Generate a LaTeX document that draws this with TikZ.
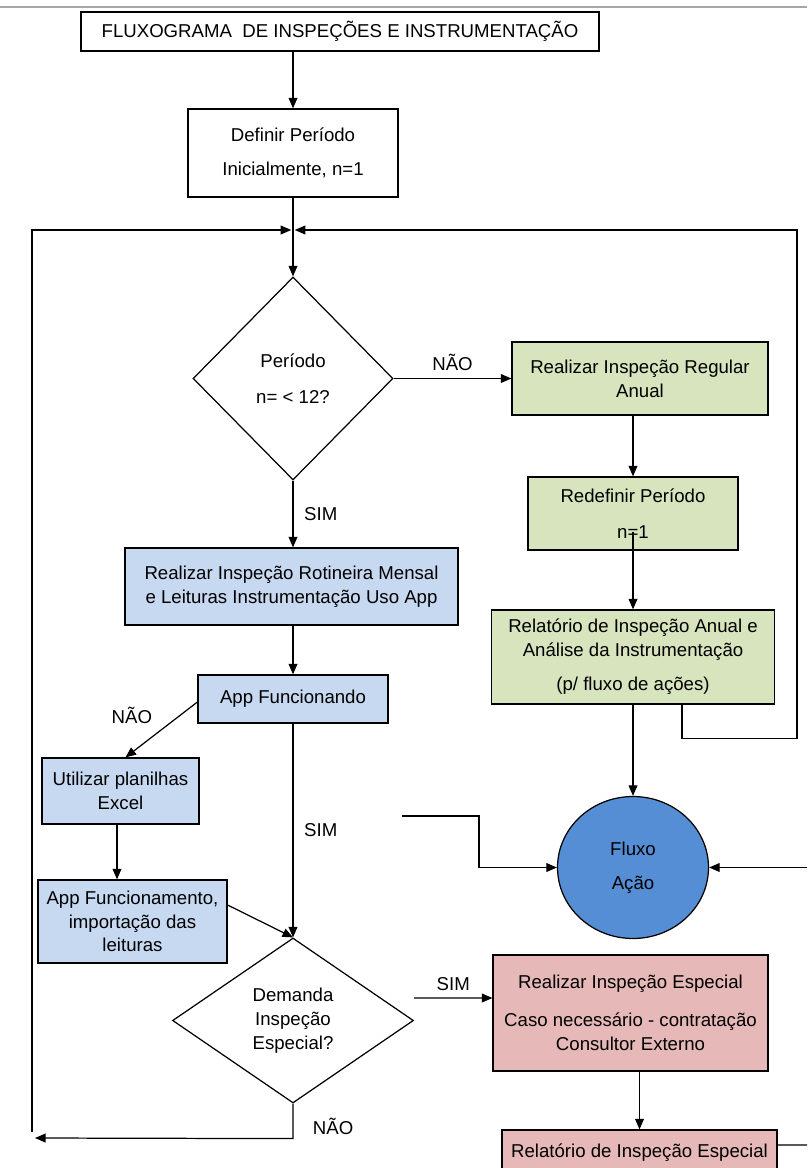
\documentclass[tikz,border=0pt]{standalone}
\usepackage{fontspec}
\setmainfont{Liberation Sans}
\usetikzlibrary{shapes.geometric, arrows.meta, positioning}

\definecolor{verdeclaro}{HTML}{D7E4BD}
\definecolor{azulclaro}{HTML}{C6D9F1}
\definecolor{azulforte}{HTML}{558ED5}
\definecolor{rosaclaro}{HTML}{E6B9B8}

\begin{document}
\begin{tikzpicture}[x=0.02cm, y=-0.02cm, >={Triangle[length=6pt, width=5pt]}, font=\fontsize{10.6}{13.5}\selectfont,
    block/.style={rectangle, draw, line width=0.7pt, align=center, inner sep=2pt},
    blockverde/.style={block, fill=verdeclaro},
    blockazul/.style={block, fill=azulclaro},
    blockrosa/.style={block, fill=rosaclaro},
    decisao/.style={diamond, draw, line width=0.7pt, align=center, inner sep=0pt},
    rotulo/.style={inner sep=1pt},
    line/.style={draw, ->, line width=0.7pt}]

    \useasboundingbox (0,0) rectangle (807,1168);
    \clip (0,0) rectangle (807,1168);
    \draw[gray!70, line width=1pt] (0,7) -- (807,7);

    % coluna central
    \node [block, minimum width=10.36cm, minimum height=0.78cm] (titulo) at (340,31.5) {FLUXOGRAMA\ \ DE INSPEÇÕES E INSTRUMENTAÇÃO};
    \node [block, minimum width=4.2cm, minimum height=1.76cm] (definir) at (293,153) {Definir Período\\[6pt]Inicialmente, n=1};
    \node [decisao, minimum width=4cm, minimum height=4.06cm] (periodo) at (293,378.5) {Período\\[7pt]n= < 12?};
    \node [blockazul, minimum width=6.66cm, minimum height=1.54cm] (rotina) at (291.5,586.5) {Realizar Inspeção Rotineira Mensal\\e Leituras Instrumentação Uso App};
    \node [blockazul, minimum width=3.8cm, minimum height=0.96cm] (appok) at (293,699) {App Funcionando};
    \node [blockazul, minimum width=3.14cm, minimum height=1.32cm] (planilha) at (120.5,791) {Utilizar planilhas\\Excel};
    \node [blockazul, minimum width=3.78cm, minimum height=1.66cm] (importa) at (132.5,921.5) {App Funcionamento,\\importação das\\leituras};
    \node [decisao, minimum width=4.82cm, minimum height=3.3cm] (demanda) at (293,1020.5) {Demanda\\Inspeção\\Especial?};

    % coluna direita
    \node [blockverde, minimum width=5.12cm, minimum height=1.46cm] (anual) at (640,378.5) {Realizar Inspeção Regular\\Anual};
    \node [blockverde, minimum width=4.2cm, minimum height=1.46cm] (redefinir) at (633,513.5) {Redefinir Período\\[7pt]n=1};
    \node [blockverde, minimum width=5.66cm, minimum height=1.88cm] (relanual) at (633,657) {Relatório de Inspeção Anual e\\Análise da Instrumentação\\[6pt](p/ fluxo de ações)};
    \node [ellipse, draw, line width=0.7pt, fill=azulforte, align=center, minimum width=3.02cm, minimum height=2.84cm] (fluxo) at (633,867.5) {Fluxo\\[6pt]Ação};
    \node [blockrosa, minimum width=5.5cm, minimum height=2.32cm] (especial) at (630.5,1013) {Realizar Inspeção Especial\\[8pt]Caso necessário - contratação\\Consultor Externo};
    \node [blockrosa, minimum width=5.5cm, minimum height=0.92cm] (relespecial) at (639.5,1153) {Relatório de Inspeção Especial};

    \coordinate (juncao) at (293,230);
    \coordinate (cantoE) at (32,230);
    \coordinate (cantoD) at (797,230);
    \coordinate (retornoE) at (32,1132);
    \coordinate (retornoFim) at (35,1138);
    \coordinate (entradaE) at (402,816);
    \coordinate (entradaD) at (807,867.5);
    \coordinate (saidaD) at (807,1145);

    \path [line] (definir.north |- titulo.south) -- (definir.north);
    \path [line] (definir.south) -- (periodo.north);
    \path [line] (retornoE) -- (cantoE) -- ([xshift=-1pt]juncao);
    \path [line] ([xshift=0.98cm]relanual.south) -- ++(0,34) -| (cantoD) -- ([xshift=1pt]juncao);
    \path [line] (periodo.east) -- node[rotulo, above=3pt] (naoanual) {NÃO} (anual.west);
    \path [line] (periodo.south) -- node[rotulo, right=5pt] (simrotina) {SIM} (periodo.south |- rotina.north);
    \path [line] (redefinir.north |- anual.south) -- (redefinir.north);
    \path [line] ([yshift=-0.37cm]redefinir.center) -- (relanual.north);
    \path [line] (relanual.south) -- (fluxo.north);
    \path [line] (appok.north |- rotina.south) -- (appok.north);
    \path [line] ([yshift=-0.06cm]appok.west) -- node[rotulo, above left=2pt and 4pt] (naoapp) {NÃO} ([xshift=0.1cm]planilha.north);
    \path [line] ([xshift=-0.07cm]planilha.south) -- ([xshift=-0.07cm]planilha.south |- importa.north);
    \path [line] ([yshift=0.33cm]importa.east) -- (demanda.north);
    \path [line] (appok.south) -- node[rotulo, right=5pt] (simapp) {SIM} (demanda.north);
    \path [line] ([yshift=0.45cm]demanda.east) -- node[rotulo, above=3pt] (simespecial) {SIM} ([yshift=0.3cm]especial.west);
    \path [line] (relespecial.north |- especial.south) -- (relespecial.north);
    \path [line] (demanda.south) -- ++(0,35) node[rotulo, above right=1pt and 10pt] (naodemanda) {NÃO} -- (retornoFim);
    \path [line] (entradaE) -- ++(77,0) |- (fluxo.west);
    \path [line] (entradaD) -- (fluxo.east);
    \draw [line width=0.7pt] ([yshift=0.16cm]relespecial.east) -- (saidaD);
\end{tikzpicture}
\end{document}
